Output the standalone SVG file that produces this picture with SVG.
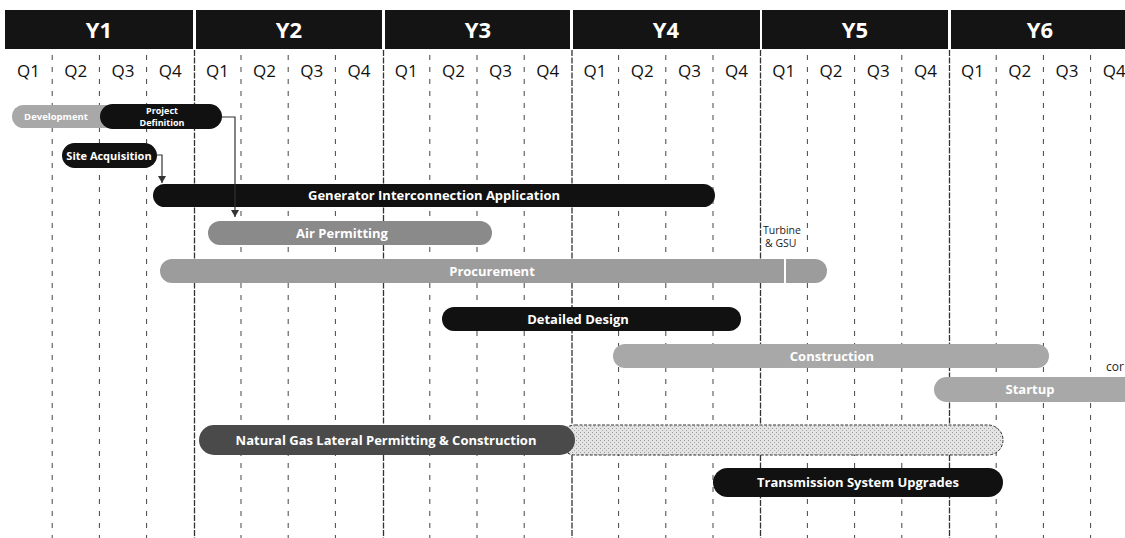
<svg xmlns="http://www.w3.org/2000/svg" width="1125" height="538" viewBox="0 0 1125 538">
<defs>
<marker id="arr" markerWidth="8" markerHeight="8" refX="7" refY="4" orient="auto" markerUnits="userSpaceOnUse"><path d="M0,0 L7,4 L0,8 Z" fill="#333"/></marker>
<pattern id="dots" width="4" height="4" patternUnits="userSpaceOnUse"><rect width="4" height="4" fill="#e4e4e4"/><rect x="0" y="0" width="1" height="1" fill="#999"/><rect x="2" y="2" width="1" height="1" fill="#aaa"/></pattern>
</defs>
<style>
.yr{fill:#141414}
.yt{font-family:"Open Sans","DejaVu Sans",sans-serif;font-weight:bold;font-size:22px;fill:#fff;text-anchor:middle}
.qt{font-family:"Open Sans","DejaVu Sans",sans-serif;font-size:17px;fill:#111;text-anchor:middle}
.ql{stroke:#444;stroke-width:1;stroke-dasharray:5,7;fill:none}
.yl{stroke:#333;stroke-width:1.3;stroke-dasharray:6,1.5;fill:none}
.blk{fill:#111}
.g1{fill:#8a8a8a}
.g2{fill:#9c9c9c}
.g3{fill:#a8a8a8}
.dk{fill:#4a4a4a}
.bt{font-family:"Open Sans","DejaVu Sans",sans-serif;font-weight:bold;font-size:13px;fill:#fff;text-anchor:middle}
.st{font-family:"Open Sans","DejaVu Sans",sans-serif;font-weight:bold;font-size:9px;fill:#fff;text-anchor:middle}
.lt{font-family:"Open Sans","DejaVu Sans",sans-serif;font-size:10.5px;fill:#222}
.cn{stroke:#333;stroke-width:1.2;fill:none}
</style>
<rect width="1125" height="538" fill="#fff"/>
<g id="header">
<rect class="yr" x="5" y="10" width="188" height="39"/>
<rect class="yr" x="196" y="10" width="186" height="39"/>
<rect class="yr" x="385" y="10" width="185" height="39"/>
<rect class="yr" x="573" y="10" width="187" height="39"/>
<rect class="yr" x="762" y="10" width="186" height="39"/>
<rect class="yr" x="951" y="10" width="174" height="39"/>
<text class="yt" x="99" y="38">Y1</text>
<text class="yt" x="289" y="38">Y2</text>
<text class="yt" x="478" y="38">Y3</text>
<text class="yt" x="666" y="38">Y4</text>
<text class="yt" x="855" y="38">Y5</text>
<text class="yt" x="1040" y="38">Y6</text>
<g>
<text class="qt" x="28.6" y="77">Q1</text><text class="qt" x="75.8" y="77">Q2</text><text class="qt" x="123" y="77">Q3</text><text class="qt" x="170.2" y="77">Q4</text>
<text class="qt" x="217.4" y="77">Q1</text><text class="qt" x="264.6" y="77">Q2</text><text class="qt" x="311.8" y="77">Q3</text><text class="qt" x="359" y="77">Q4</text>
<text class="qt" x="406.2" y="77">Q1</text><text class="qt" x="453.4" y="77">Q2</text><text class="qt" x="500.6" y="77">Q3</text><text class="qt" x="547.8" y="77">Q4</text>
<text class="qt" x="595" y="77">Q1</text><text class="qt" x="642.2" y="77">Q2</text><text class="qt" x="689.4" y="77">Q3</text><text class="qt" x="736.6" y="77">Q4</text>
<text class="qt" x="783.8" y="77">Q1</text><text class="qt" x="831" y="77">Q2</text><text class="qt" x="878.2" y="77">Q3</text><text class="qt" x="925.4" y="77">Q4</text>
<text class="qt" x="972.6" y="77">Q1</text><text class="qt" x="1019.8" y="77">Q2</text><text class="qt" x="1067" y="77">Q3</text><text class="qt" x="1114.2" y="77">Q4</text>
</g>
</g>
<g id="grid">
<path class="ql" d="M52.2,55V538M99.4,55V538M146.6,55V538M241,55V538M288.2,55V538M335.4,55V538M429.8,55V538M477,55V538M524.2,55V538M618.6,55V538M665.8,55V538M713,55V538M807.4,55V538M854.6,55V538M901.8,55V538M996.2,55V538M1043.4,55V538M1090.6,55V538"/>
<path class="yl" d="M194.5,50V538M383.5,50V538M572,50V538M760.5,50V538M949.5,50V538"/>
</g>
<g id="development">
<rect class="g3" x="12" y="105" width="110" height="23" rx="11.5"/>
<text class="st" x="56" y="120" style="font-size:9.5px">Development</text>
</g>
<g id="project-definition">
<rect class="blk" x="100" y="104" width="122" height="25" rx="12.5"/>
<text class="st" x="162" y="114">Project</text>
<text class="st" x="162" y="126">Definition</text>
</g>
<g id="site-acquisition">
<rect class="blk" x="62" y="143" width="95" height="25" rx="12.5"/>
<text class="bt" x="109" y="160" style="font-size:11px">Site Acquisition</text>
</g>
<g id="generator-interconnection">
<rect class="blk" x="153" y="184" width="562" height="23" rx="11.5"/>
<text class="bt" x="434" y="200">Generator Interconnection Application</text>
</g>
<g id="air-permitting">
<rect class="g1" x="208" y="221" width="284" height="24" rx="12"/>
<text class="bt" x="342" y="238">Air Permitting</text>
</g>
<g id="turbine-gsu">
<text class="lt" x="763" y="234">Turbine</text>
<text class="lt" x="765" y="247">&amp; GSU</text>
</g>
<g id="procurement">
<rect class="g2" x="160" y="259" width="667" height="24" rx="12"/>
<line x1="785" y1="259" x2="785" y2="283" stroke="#fff" stroke-width="2"/>
<text class="bt" x="492" y="276">Procurement</text>
</g>
<g id="detailed-design">
<rect class="blk" x="442" y="307" width="299" height="24" rx="12"/>
<text class="bt" x="578" y="324">Detailed Design</text>
</g>
<g id="construction">
<rect class="g3" x="613" y="344" width="436" height="24" rx="12"/>
<text class="bt" x="832" y="361">Construction</text>
</g>
<g id="cor">
<text class="lt" x="1106" y="371" style="font-size:12px">cor</text>
</g>
<g id="startup">
<rect class="g3" x="934" y="377" width="220" height="25" rx="12.5"/>
<text class="bt" x="1030" y="394">Startup</text>
</g>
<g id="natural-gas">
<rect x="560" y="425" width="443" height="30" rx="15" fill="url(#dots)" stroke="#333" stroke-width="1" stroke-dasharray="3,1.5"/>
<rect class="dk" x="199" y="425" width="376" height="30" rx="15"/>
<text class="bt" x="386" y="445">Natural Gas Lateral Permitting &amp; Construction</text>
</g>
<g id="transmission">
<rect class="blk" x="713" y="468" width="290" height="29" rx="14.5"/>
<text class="bt" x="858" y="487">Transmission System Upgrades</text>
</g>
<g id="connectors">
<path class="cn" d="M222,117H235V217" marker-end="url(#arr)"/>
<path class="cn" d="M157,155H162V183" marker-end="url(#arr)"/>
</g>
</svg>
